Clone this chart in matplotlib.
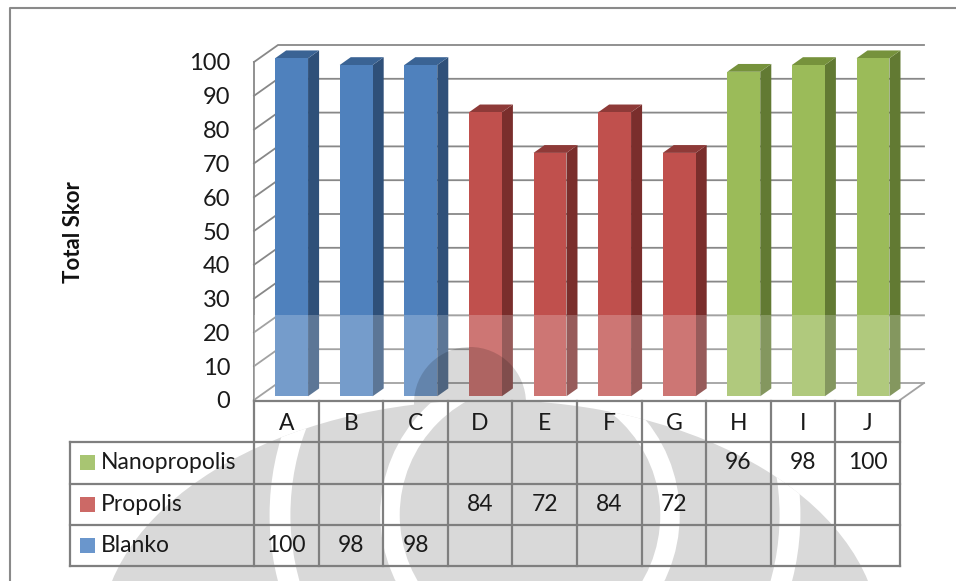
import matplotlib
matplotlib.use("Agg")
import matplotlib.pyplot as plt
from matplotlib.patches import Polygon, Rectangle, Ellipse, Circle, PathPatch
from matplotlib.path import Path

plt.rcParams['font.family'] = ['Lato', 'DejaVu Sans']

# data
categories = ['A', 'B', 'C', 'D', 'E', 'F', 'G', 'H', 'I', 'J']
blanko = [100, 98, 98, None, None, None, None, None, None, None]
propolis = [None, None, None, 84, 72, 84, 72, None, None, None]
nanopropolis = [None, None, None, None, None, None, None, 96, 98, 100]
series_names = ['Nanopropolis', 'Propolis', 'Blanko']
series_values = [nanopropolis, propolis, blanko]
yticks = list(range(0, 101, 10))

# front / side / top shades per series
shades = {
    'Blanko': ('#4F81BD', '#2F5079', '#3A6394'),
    'Propolis': ('#C0504D', '#7A2E2C', '#8E3A38'),
    'Nanopropolis': ('#9BBB59', '#627A33', '#76923C'),
}
swatch = {'Blanko': '#6A96CC', 'Propolis': '#CC6966', 'Nanopropolis': '#A8C572'}

W, H = 956, 581
fig = plt.figure(figsize=(W / 100, H / 100), dpi=100)

# plot area in pixels: front plane x 254..900, y(0)=400, y(100)=62
x0, x1, yb, yt = 254, 900, 400, 62
ax = fig.add_axes([x0 / W, 1 - yb / H, (x1 - x0) / W, (yb - yt) / H])
ax.set_xlim(0, 10)
ax.set_ylim(0, 100)
ax.set_zorder(1)
ax.patch.set_visible(False)

# depth offsets (data units for full depth)
DX = 24 / ((x1 - x0) / 10)
DY = 17 / ((yb - yt) / 100)


def P(x, y, s):
    return (x + s * DX, y + s * DY)


grid_c = '#888888'
for v in yticks:
    ax.plot(*zip(P(0, v, 0), P(0, v, 1), P(10, v, 1)), color=grid_c, lw=1.3,
            clip_on=False, zorder=1, solid_joinstyle='miter')
ax.plot(*zip(P(10, 0, 0), P(10, 0, 1)), color=grid_c, lw=1.3, clip_on=False, zorder=1)

# bars
s0, s1, bw = 0.22, 0.68, 0.51
for name, vals in zip(series_names, series_values):
    front, side, top = shades[name]
    for i, v in enumerate(vals):
        if v is None:
            continue
        xl = i + 0.5 - bw / 2
        xr = xl + bw
        ax.add_patch(Polygon([P(xr, 0, s0), P(xr, 0, s1), P(xr, v, s1), P(xr, v, s0)],
                             closed=True, fc=side, ec='none', clip_on=False, zorder=3))
        ax.add_patch(Polygon([P(xl, v, s0), P(xr, v, s0), P(xr, v, s1), P(xl, v, s1)],
                             closed=True, fc=top, ec='none', clip_on=False, zorder=3))
        ax.add_patch(Polygon([P(xl, 0, s0), P(xr, 0, s0), P(xr, v, s0), P(xl, v, s0)],
                             closed=True, fc=front, ec='none', clip_on=False, zorder=4))

for sp in ['top', 'right', 'bottom']:
    ax.spines[sp].set_visible(False)
ax.spines['left'].set_color(grid_c)
ax.spines['left'].set_linewidth(1.3)
ax.set_xticks([])
ax.set_yticks(yticks)
ax.set_yticklabels([str(t) for t in yticks], fontsize=17, color='#1a1a1a')
ax.tick_params(axis='y', length=0, pad=17)

fig.text(73 / W, 1 - 232 / H, 'Total Skor', rotation=90, ha='center', va='center',
         fontsize=16, fontweight='bold', color='#111111')

# overlay: frame and faint background logo
ov = fig.add_axes([0, 0, 1, 1])
ov.set_xlim(0, W)
ov.set_ylim(H, 0)
ov.axis('off')
ov.set_zorder(2)
ov.patch.set_visible(False)
ov.plot([10, 10, W + 5], [H + 5, 8, 8], color='#8a8a8a', lw=1.5)
ov.add_patch(Rectangle((254, 315), 680, 86, fc='white', alpha=0.22, ec='none'))

body = Ellipse((490, 640), 780, 480)
bump = Circle((470, 403), 56)
body_path = body.get_patch_transform().transform_path(body.get_path())
shape = Path.make_compound_path(
    body_path, bump.get_patch_transform().transform_path(bump.get_path()))
ov.add_patch(PathPatch(shape, fc='black', alpha=0.15, ec='none'))
for cx, cy, r, w in [(535, 515, 255, 15), (530, 515, 140, 14)]:
    ring = Ellipse((cx, cy), 2 * r, 2 * r, fill=False, ec='white', lw=w)
    ov.add_patch(ring)
    ring.set_clip_path(body_path, ov.transData)

# data table below the plot
leg = (254 - 70) / ((x1 - x0) / 10)
tb = fig.add_axes([70 / W, 1 - 566 / H, (900 - 70) / W, (566 - 401) / H])
tb.set_xlim(-leg, 10)
tb.set_ylim(0, 4)
tb.axis('off')
tb.set_zorder(3)
tb.patch.set_visible(False)
line_c = '#7f7f7f'
lw = 1.6
for y in [0, 1, 2, 3]:
    tb.plot([-leg, 10], [y, y], color=line_c, lw=lw, clip_on=False)
tb.plot([0, 10], [4, 4], color=line_c, lw=lw, clip_on=False)
tb.plot([-leg, -leg], [0, 3], color=line_c, lw=lw, clip_on=False)
for i in range(11):
    tb.plot([i, i], [0, 4], color=line_c, lw=lw, clip_on=False)

for i, c in enumerate(categories):
    tb.text(i + 0.5, 3.45, c, ha='center', va='center', fontsize=16.5, color='#1a1a1a')

px = (x1 - x0) / 10
for r, (name, vals) in enumerate(zip(series_names, series_values)):
    yc = 2.5 - r
    tb.add_patch(Rectangle((-leg + 10 / px, yc - 0.18), 15 / px, 0.36, fc=swatch[name],
                           ec='none', clip_on=False))
    tb.text(-leg + 31 / px, yc, name, ha='left', va='center', fontsize=16.5,
            color='#1a1a1a')
    for i, v in enumerate(vals):
        if v is not None:
            tb.text(i + 0.5, yc, str(v), ha='center', va='center', fontsize=16.5,
                    color='#1a1a1a')

fig.savefig('out.png', dpi=100)
